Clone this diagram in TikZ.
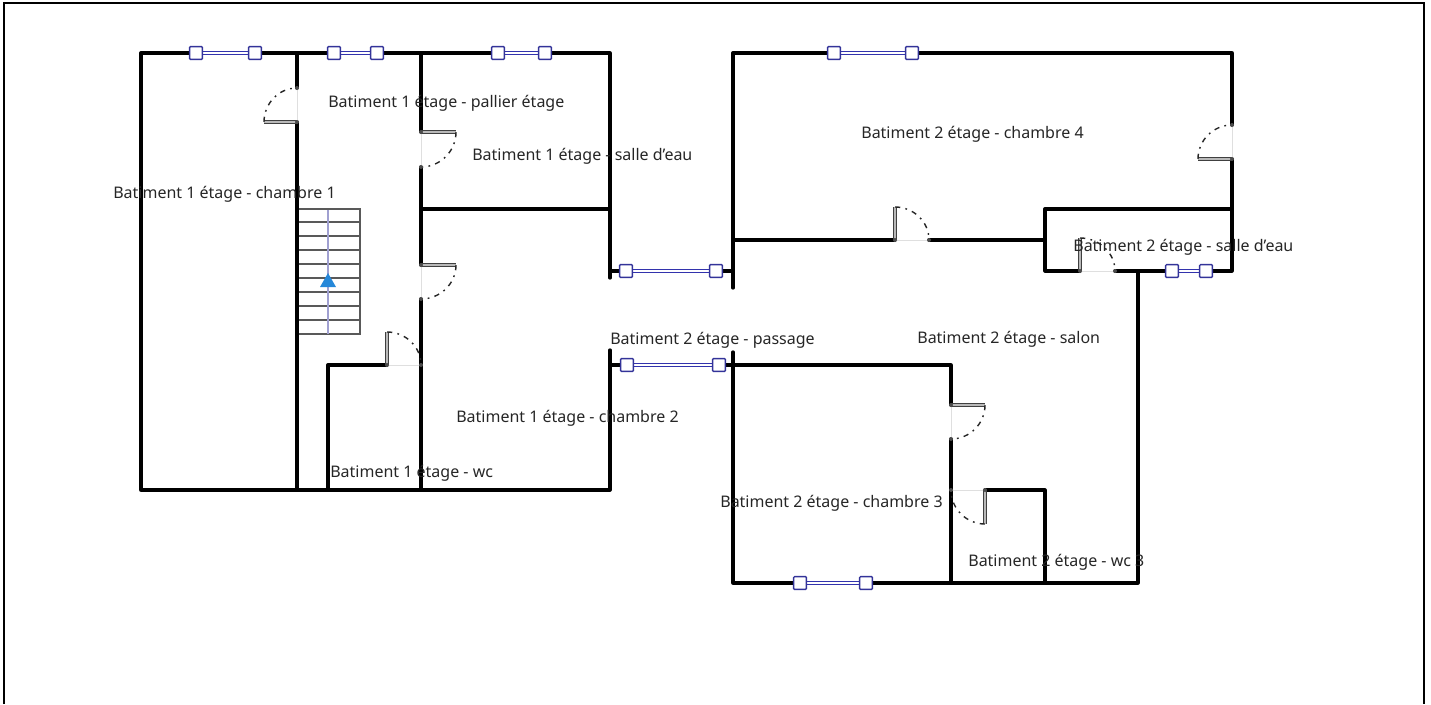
\documentclass[tikz,border=0pt]{standalone}
\usepackage{fontspec}
\setmainfont{Noto Sans}
\usepackage{xcolor}
\usetikzlibrary{calc}

\newcommand{\winH}[3]{% left square, right square, height
  \draw[winglass] (#1,#3) -- (#2,#3);
  \node[winframe] at (#1,#3) {};
  \node[winframe] at (#2,#3) {};
}
\newcommand{\doorway}[3]{% hinge, end of leaf, far jamb
  \draw[doorgap] (#1) -- (#3);
  \draw[doorleaf] (#1) -- (#2);
  \draw[doorswing] (#2) .. controls ($(#2)+0.55*(#3)-0.55*(#1)$) and ($(#3)+0.55*(#2)-0.55*(#1)$) .. (#3);
  \fill[black!70] (#1) circle (2);
  \fill[black!70] (#3) circle (2);
}

\begin{document}
\begin{tikzpicture}[x=0.02cm, y=-0.02cm, font=\fontsize{9.1}{11}\selectfont,
    wall/.style={line width=1.85pt, black, line cap=round, line join=round},
    winglass/.style={line width=0.7pt, blue!60!black!80, double=white, double distance=0.9pt},
    winframe/.style={draw=blue!50!black!80, fill=white, line width=0.8pt, minimum size=7.2pt, inner sep=0pt, rectangle, rounded corners=0.5pt},
    doorgap/.style={very thin, gray!25},
    doorleaf/.style={line width=0.5pt, black!75, double=gray!55, double distance=0.9pt},
    doorswing/.style={line width=0.8pt, black!85, dash pattern=on 3pt off 3pt on 1pt off 3pt},
    treadline/.style={line width=0.6pt, black!65},
    roomlabel/.style={anchor=west, inner sep=0pt, text=black!85}]

    % 1. page frame
    \useasboundingbox (0,0) rectangle (1431,704);
    \draw[line width=1.1pt] (4,704) -- (4,3) -- (1424,3) -- (1424,704);

    % 2. stairs
    \foreach \ty in {222,236,250,264,278,292,306,320}
        \draw[treadline] (297,\ty) -- (360,\ty);
    \draw[treadline] (297,209) rectangle (360,334);
    \draw[line width=0.7pt, blue!35!gray!55] (328,210) -- (328,334);
    \fill[blue!45!cyan!70!gray] (328,273) -- (336,287) -- (320,287) -- cycle;

    % 3. walls, building 1
    \draw[wall] (610,278) -- (610,53) -- (141,53) -- (141,490) -- (610,490) -- (610,350);
    \draw[wall] (297,53) -- (297,88) (297,122) -- (297,490);
    \draw[wall] (421,53) -- (421,132) (421,167) -- (421,265) (421,299) -- (421,490);
    \draw[wall] (421,209) -- (610,209);
    \draw[wall] (387,365) -- (328,365) -- (328,490);

    % 4. walls, building 2
    \draw[wall] (733,288) -- (733,53) -- (1232,53) -- (1232,125) (1232,159) -- (1232,271) -- (1115,271);
    \draw[wall] (733,240) -- (895,240) (929,240) -- (1045,240);
    \draw[wall] (1232,209) -- (1045,209) -- (1045,271) -- (1080,271);
    \draw[wall] (1138,271) -- (1138,583) -- (733,583) -- (733,352);
    \draw[wall] (733,365) -- (951,365) -- (951,405) (951,439) -- (951,583);
    \draw[wall] (985,490) -- (1045,490) -- (1045,583);
    \draw[wall] (610,271) -- (733,271);
    \draw[wall] (610,365) -- (733,365);

    % 5. windows
    \winH{196}{255}{53}
    \winH{334}{377}{53}
    \winH{498}{545}{53}
    \winH{834}{912}{53}
    \winH{626}{716}{271}
    \winH{627}{719}{365}
    \winH{1172}{1206}{271}
    \winH{800}{866}{583}

    % 6. doors
    \doorway{297,122}{264,122}{297,88}
    \doorway{421,132}{456,132}{421,167}
    \doorway{421,265}{456,265}{421,299}
    \doorway{387,365}{387,332}{421,365}
    \doorway{1232,159}{1198,159}{1232,125}
    \doorway{895,240}{895,207}{929,240}
    \doorway{1080,271}{1080,238}{1115,271}
    \doorway{951,405}{985,405}{951,439}
    \doorway{985,490}{985,524}{951,490}

    % 7. room names
    \node[roomlabel] (chambre1) at (113,194) {Batiment 1 étage - chambre 1};
    \node[roomlabel] (pallier) at (328,103) {Batiment 1 étage - pallier étage};
    \node[roomlabel] (salleeau1) at (472,156) {Batiment 1 étage - salle d'eau};
    \node[roomlabel] (chambre2) at (456,418) {Batiment 1 étage - chambre 2};
    \node[roomlabel] (wc1) at (330,473) {Batiment 1 étage - wc};
    \node[roomlabel] (chambre4) at (861,134) {Batiment 2 étage - chambre 4};
    \node[roomlabel] (salleeau2) at (1073,247) {Batiment 2 étage - salle d'eau};
    \node[roomlabel] (passage) at (610,340) {Batiment 2 étage - passage};
    \node[roomlabel] (salon) at (917,339) {Batiment 2 étage - salon};
    \node[roomlabel] (chambre3) at (720,503) {Batiment 2 étage - chambre 3};
    \node[roomlabel] (wc3) at (968,562) {Batiment 2 étage - wc 3};

\end{tikzpicture}
\end{document}
